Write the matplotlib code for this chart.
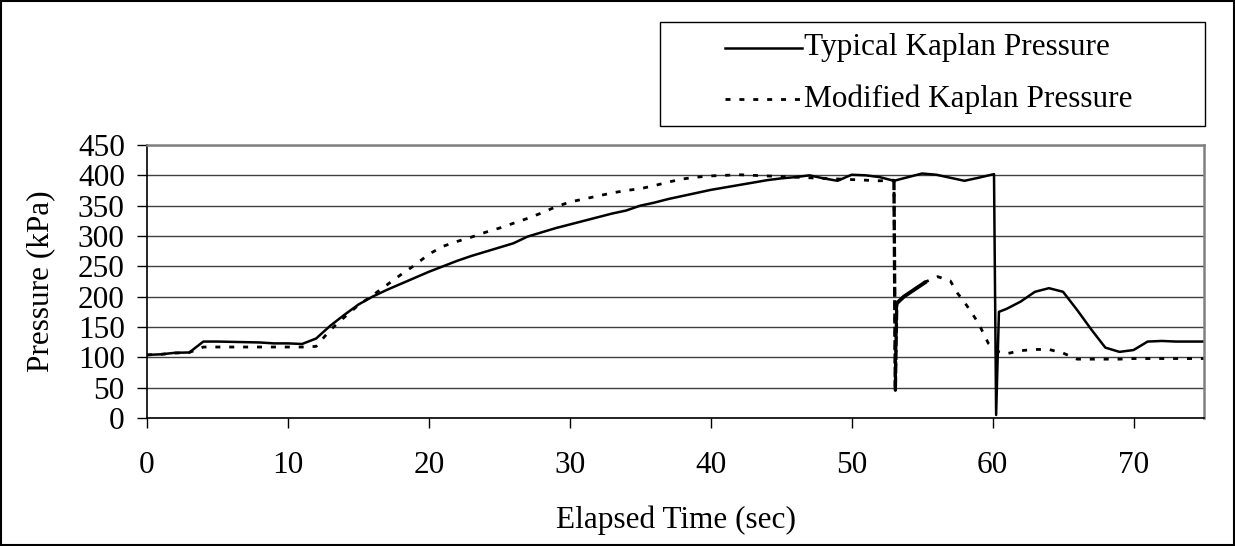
import numpy as np
import matplotlib.pyplot as plt
from matplotlib.patches import Rectangle
from matplotlib.lines import Line2D

plt.rcParams['font.family'] = ['Liberation Serif', 'DejaVu Serif']

# Typical Kaplan pressure (solid line)
typical_time = [0, 1, 2, 3, 4, 5, 6, 7, 8, 9, 10, 11, 12, 13, 14, 15, 16, 17, 18, 19,
                20, 21, 22, 23, 24, 25, 26, 27, 28, 29, 30, 31, 32, 33, 34, 35, 36, 37, 38, 39,
                40, 41, 42, 43, 44, 45, 46, 47, 48, 49, 50, 51, 52, 53, 54, 55, 56, 57, 58, 59,
                60.1, 60.25, 60.45, 61, 62, 63, 64, 65, 66, 67, 68, 69, 70, 71, 72, 73, 74, 75]
typical_kpa = [104, 105, 107.5, 108, 126, 126, 125.5, 125, 124.5, 123, 123, 122, 131, 152, 170, 187, 200, 211, 221, 231,
               241, 250, 259, 267, 274, 281, 288, 299, 306, 313, 319, 325, 331, 337, 342, 350, 355, 361, 366, 371,
               376, 380, 384, 388, 392, 395, 397, 400, 395, 391, 401, 400, 397, 391, 397, 403, 401, 396, 391, 396,
               402, 5, 175, 180, 192, 208, 214, 208, 178, 146, 116, 109, 112, 126, 127, 126, 126, 126]

# Modified Kaplan pressure (dotted line)
modified_time = [0, 1, 2, 3, 4, 5, 6, 7, 8, 9, 10, 11, 12, 13, 14, 15, 16, 17, 18, 19,
                 20, 21, 22, 23, 24, 25, 26, 27, 28, 29, 30, 31, 32, 33, 34, 35, 36, 37, 38, 39,
                 40, 41, 42, 43, 44, 45, 46, 47, 48, 49, 50, 51, 52, 53, 53.1, 53.2, 53.7, 55.3,
                 56.1, 57, 57.5, 58, 58.5, 59, 59.7, 60.3, 61, 62, 63, 64, 65, 66, 67, 68, 69, 70,
                 71, 72, 73, 74, 75]
modified_kpa = [104, 105, 107, 108, 117, 117, 117, 117, 117, 117, 117, 117, 118, 145, 166, 186, 202, 219, 236, 252,
                270, 283, 291, 298, 306, 313, 321, 329, 338, 348, 356, 361, 366, 371, 375, 378, 383, 389, 394, 397,
                399, 400, 401, 400, 399, 398, 397, 396, 395, 394, 393, 392, 391, 392, 46, 189, 200, 225,
                233, 226, 206, 191, 174, 156, 123, 110, 106, 111, 113, 113, 107, 97, 97, 97, 97, 98,
                98, 98, 98, 98, 98]

series_labels = ['Typical Kaplan Pressure', 'Modified Kaplan Pressure']
x_ticks = [0, 10, 20, 30, 40, 50, 60, 70]
y_ticks = [0, 50, 100, 150, 200, 250, 300, 350, 400, 450]

W, H = 1235, 546
FS = 22.5
solid_style = dict(color='black', lw=1.8)
dot_style = dict(color='black', lw=2.0, linestyle=(0, (1.8, 3.2)))

fig = plt.figure(figsize=(W / 100, H / 100), dpi=100)
ax = fig.add_axes([147 / W, 1 - 418 / H, (1204 - 147) / W, (418 - 145) / H])

mt = np.array(modified_time)
mp = np.array(modified_kpa)

ax.plot(typical_time, typical_kpa, **solid_style)
ax.plot(mt, mp, **dot_style)
# sudden drop and fast recovery near 53 s (overlapping samples look heavier)
drop = (mt >= 53) & (mt <= 53.2)
ax.plot(mt[drop], mp[drop], color='black', lw=2.4, linestyle=(0, (3, 1)))
rec = (mt >= 53.2) & (mt <= 55.3)
ax.plot(mt[rec], mp[rec], color='black', lw=2.8, solid_capstyle='butt')

ax.set_xlim(0, 75)
ax.set_ylim(0, 450)
ax.set_xticks(x_ticks)
ax.set_yticks(y_ticks)
ax.yaxis.grid(True, color='#404040', lw=1)
ax.set_axisbelow(True)

for side in ['top', 'right']:
    ax.spines[side].set_color('#808080')
    ax.spines[side].set_linewidth(1.8)
for side in ['left', 'bottom']:
    ax.spines[side].set_color('black')
    ax.spines[side].set_linewidth(1.2)

ax.tick_params(axis='x', direction='out', length=7, width=1, pad=17, labelsize=FS)
ax.tick_params(axis='y', direction='out', length=7, width=1, pad=9, labelsize=FS)

ax.set_xlabel('Elapsed Time (sec)', fontsize=FS)
ax.xaxis.set_label_coords(0.5, -0.374)
ax.xaxis.label.set_va('center')
ax.set_ylabel('Pressure (kPa)', fontsize=FS)
ax.yaxis.set_label_coords(-0.101, 0.5)
ax.yaxis.label.set_va('center')

# legend box drawn like the spreadsheet one
fig.add_artist(Rectangle((660 / W, 1 - 126 / H), (1205 - 660) / W, (126 - 22) / H,
                         transform=fig.transFigure, fill=False, edgecolor='black', lw=1))
for row_y, label, style in zip([48, 99], series_labels, [solid_style, dot_style]):
    fy = 1 - row_y / H
    fig.add_artist(Line2D([725 / W, 802 / W], [fy, fy], transform=fig.transFigure, **style))
    fig.text(804 / W, fy, label, fontsize=FS, va='center', ha='left')

fig.patches.append(Rectangle((0.001, 0.002), 0.998, 0.996, transform=fig.transFigure,
                             fill=False, edgecolor='black', lw=1.5))

fig.savefig('out.png', dpi=100)
